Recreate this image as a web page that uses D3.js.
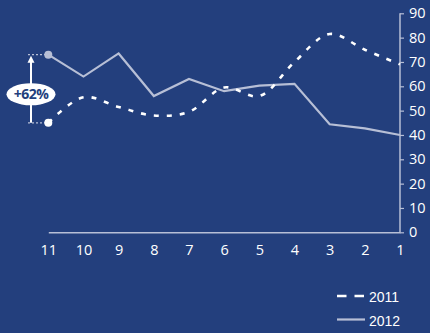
<!DOCTYPE html>
<html><head><meta charset="utf-8">
<script src="https://cdn.jsdelivr.net/npm/d3@7"></script>
<style>html,body{margin:0;padding:0;background:#233F7D;}svg{display:block;}</style>
</head><body>
<script>
const categories = ["11","10","9","8","7","6","5","4","3","2","1"];
const series2011 = [45, 55.5, 51.5, 48, 49.5, 59.5, 56, 70, 81.5, 75, 69];
const series2012 = [73, 64, 73.5, 56, 63, 58, 60.3, 61, 44.4, 42.7, 40];
const yTicks = [0,10,20,30,40,50,60,70,80,90];
const legendLabels = ["2011","2012"];
const annotation = "+62%";

const W = 430, H = 333;
const bg = "#233F7D", light = "#B7BFD6", white = "#FFFFFF";
const svg = d3.select("body").append("svg").attr("width", W).attr("height", H);
svg.append("rect").attr("width", W).attr("height", H).attr("fill", bg);

const x = d3.scalePoint().domain(categories).range([48.3, 400]);
const y = d3.scaleLinear().domain([0, 90]).range([232.3, 13.3]);

// y axis on right
const yAxis = d3.axisRight(y).tickValues(yTicks).tickSize(4).tickPadding(5);
const gy = svg.append("g").attr("transform", "translate(400,0)").call(yAxis);
gy.select(".domain").attr("stroke", light).attr("stroke-width", 1.5).attr("d", "M0,13.3V232.3");
gy.selectAll(".tick line").attr("stroke", light).attr("stroke-width", 1.2);
gy.selectAll("text").attr("fill", white).attr("font-family", "Open Sans, sans-serif").attr("font-size", 14.5);

// x axis baseline
const xAxis = d3.axisBottom(x).tickSize(0).tickPadding(12);
const gx = svg.append("g").attr("transform", "translate(0,232.3)").call(xAxis);
gx.select(".domain").attr("stroke", light).attr("stroke-width", 1.5);
gx.selectAll("text").attr("fill", white).attr("font-family", "Open Sans, sans-serif").attr("font-size", 14.5);

// lines
const line2011 = d3.line().x((d,i)=>x(categories[i])).y(d=>y(d)).curve(d3.curveCatmullRom.alpha(0.5));
const line2012 = d3.line().x((d,i)=>x(categories[i])).y(d=>y(d));

svg.append("path").datum(series2012).attr("d", line2012)
  .attr("fill","none").attr("stroke", light).attr("stroke-width", 2.2);
svg.append("path").datum(series2011).attr("d", line2011)
  .attr("fill","none").attr("stroke", white).attr("stroke-width", 2.6).attr("stroke-dasharray","5,8");

// annotation
const x0 = x(categories[0]);
const yHi = y(series2012[0]), yLo = y(series2011[0]);
svg.append("line").attr("x1", 28).attr("x2", x0).attr("y1", yHi).attr("y2", yHi)
  .attr("stroke", light).attr("stroke-width", 1.3).attr("stroke-dasharray","2,2");
svg.append("line").attr("x1", 28).attr("x2", x0).attr("y1", yLo).attr("y2", yLo)
  .attr("stroke", light).attr("stroke-width", 1.3).attr("stroke-dasharray","2,2");
svg.append("line").attr("x1", 31).attr("x2", 31).attr("y1", yLo).attr("y2", yHi + 6)
  .attr("stroke", white).attr("stroke-width", 2);
svg.append("path").attr("d", `M31,${yHi+1}L27.5,${yHi+8}L34.5,${yHi+8}Z`).attr("fill", white);
svg.append("circle").attr("cx", x0).attr("cy", yHi).attr("r", 4).attr("fill", light);
svg.append("circle").attr("cx", x0).attr("cy", yLo).attr("r", 4).attr("fill", white);
const cy = (yHi + yLo) / 2 + 5.5;
svg.append("ellipse").attr("cx", 31).attr("cy", cy).attr("rx", 24.5).attr("ry", 11).attr("fill", white);
svg.append("text").attr("x", 31).attr("y", cy + 5).attr("text-anchor","middle")
  .attr("font-family","Open Sans, sans-serif").attr("font-weight","bold").attr("font-size", 14)
  .attr("letter-spacing", -0.5)
  .attr("fill", bg).text(annotation);

// legend
const lg = svg.append("g");
lg.append("line").attr("x1", 337).attr("x2", 364).attr("y1", 296).attr("y2", 296)
  .attr("stroke", white).attr("stroke-width", 2.5).attr("stroke-dasharray","9.5,8");
lg.append("line").attr("x1", 337).attr("x2", 365).attr("y1", 319.5).attr("y2", 319.5)
  .attr("stroke", light).attr("stroke-width", 2.2);
lg.selectAll("text").data(legendLabels).enter().append("text")
  .attr("x", 369).attr("y", (d,i)=>302 + i*23.5)
  .attr("fill", white).attr("font-family","Liberation Sans, Arial, sans-serif").attr("font-size", 14)
  .text(d=>d);
</script>
</body></html>
